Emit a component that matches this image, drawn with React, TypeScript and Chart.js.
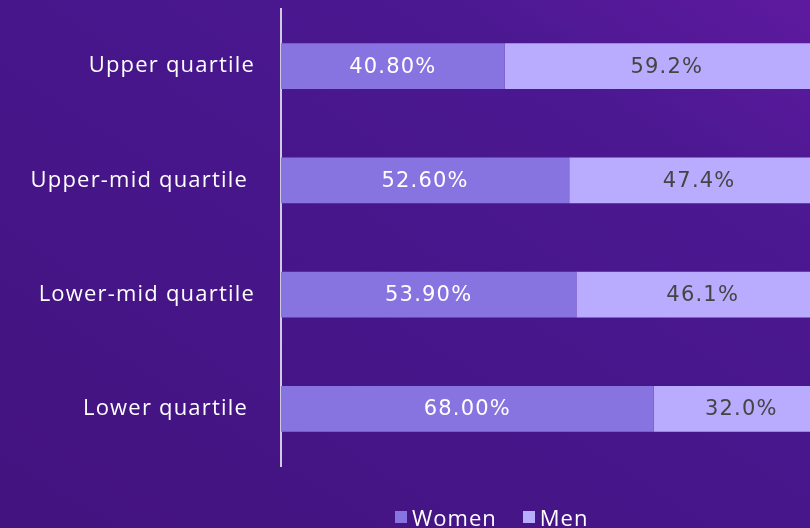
import React, { useEffect, useRef } from "react";
import { Chart, registerables } from "chart.js";

Chart.register(...registerables);

const categories = ["Upper quartile", "Upper-mid quartile ", "Lower-mid quartile", "Lower quartile "];
const womenValues = [40.8, 52.6, 53.9, 68.0];
const menValues = [59.2, 47.4, 46.1, 32.0];
const seriesNames = ["Women", "Men"];
const seriesColors = ["#8874e0", "#b9abfd"];
const labelColors = ["#ffffff", "#444444"];
const labelDecimals = [2, 1];

const spacing = {
  id: "spacing",
  beforeUpdate(chart: any) {
    (chart.ctx as any).letterSpacing = "1.2px";
  },
  beforeDraw(chart: any) {
    (chart.ctx as any).letterSpacing = "1.2px";
  },
};

const barLabels = {
  id: "barLabels",
  afterDatasetsDraw(chart: any) {
    const ctx = chart.ctx;
    ctx.save();
    ctx.font = "21px 'DejaVu Sans'";
    (ctx as any).letterSpacing = "1.2px";
    ctx.textAlign = "center";
    ctx.textBaseline = "middle";
    chart.data.datasets.forEach((ds: any, di: number) => {
      const meta = chart.getDatasetMeta(di);
      meta.data.forEach((el: any, i: number) => {
        const { x, y, base } = el.getProps(["x", "y", "base"], true);
        ctx.fillStyle = labelColors[di];
        ctx.fillText(ds.data[i].toFixed(labelDecimals[di]) + "%", (x + base) / 2, y + 1);
      });
    });
    ctx.restore();
  },
};

export default function App() {
  const ref = useRef<HTMLCanvasElement>(null);
  useEffect(() => {
    const canvas = ref.current!;
    const chart = new Chart(canvas, {
      type: "bar",
      data: {
        labels: categories,
        datasets: [
          { label: seriesNames[0], data: womenValues, backgroundColor: seriesColors[0], barPercentage: 0.4, categoryPercentage: 1 },
          { label: seriesNames[1], data: menValues, backgroundColor: seriesColors[1], barPercentage: 0.4, categoryPercentage: 1 },
        ],
      },
      options: {
        indexAxis: "y",
        responsive: false,
        animation: false,
        devicePixelRatio: 1,
        layout: { padding: { top: 9, bottom: 62, left: 0, right: 0 } },
        plugins: { legend: { display: false }, tooltip: { enabled: false } },
        scales: {
          x: { stacked: true, min: 0, max: 100, display: false },
          y: {
            stacked: true,
            afterFit: (s: any) => {
              s.width = 281;
              s.paddingTop = 0;
              s.paddingBottom = 0;
            },
            grid: { display: false, drawTicks: false },
            border: { display: true, color: "#cfcbe0", width: 2 },
            ticks: {
              color: "#ffffff",
              padding: 26,
              font: { family: "'Open Sans'", size: 22 },
            },
          },
        },
      },
      plugins: [spacing, barLabels],
    });
    return () => chart.destroy();
  }, []);

  return (
    <div
      style={{
        position: "fixed",
        left: 0,
        top: 0,
        width: 810,
        height: 528,
        overflow: "hidden",
        background:
          "linear-gradient(to bottom left, #5e1a9f 0%, #4c1892 22%, #47168b 50%, #43137f 100%)",
      }}
    >
      <canvas ref={ref} width={829} height={528} style={{ display: "block", width: 829, height: 528 }} />
      <div
        style={{
          position: "absolute",
          left: 395,
          top: 505,
          display: "flex",
          alignItems: "center",
          fontFamily: "'Open Sans'",
          fontSize: 22,
          letterSpacing: "1px",
          lineHeight: "24px",
          color: "#ffffff",
        }}
      >
        {seriesNames.map((n, i) => (
          <div key={n} style={{ display: "flex", alignItems: "center", marginRight: 26 }}>
            <span style={{ display: "inline-block", width: 12, height: 12, background: seriesColors[i], marginRight: 5 }} />
            <span>{n}</span>
          </div>
        ))}
      </div>
    </div>
  );
}
